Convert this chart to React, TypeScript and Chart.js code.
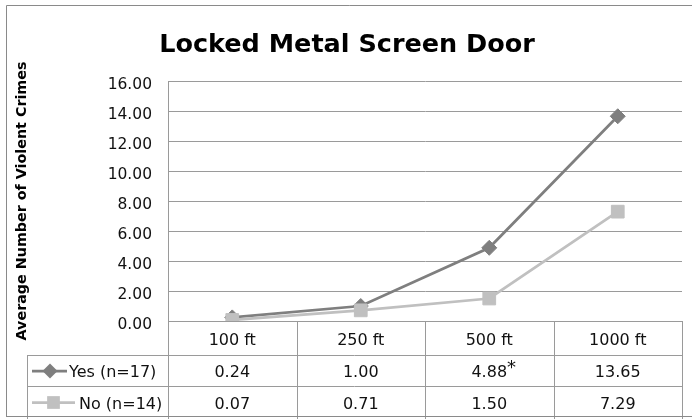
import React, { useEffect, useRef } from "react";
import { Chart, registerables } from "chart.js";

Chart.register(...registerables);

const chartTitle = "Locked Metal Screen Door";
const yAxisTitle = "Average Number of Violent Crimes";
const categories = ["100 ft", "250 ft", "500 ft", "1000 ft"];
const yesLabel = "Yes (n=17)";
const noLabel = "No (n=14)";
const yesValues = [0.24, 1.0, 4.88, 13.65];
const noValues = [0.07, 0.71, 1.5, 7.29];
const yesNotes = ["", "", "*", ""];
const noNotes = ["", "", "", ""];
const yMin = 0;
const yMax = 16;
const yStep = 2;

const FONT = "'DejaVu Sans', sans-serif";
const YES_COLOR = "#7f7f7f";
const NO_COLOR = "#c0c0c0";
const GRID = "#9a9a9a";

function drawMarker(ctx: CanvasRenderingContext2D, style: string, x: number, y: number, r: number, color: string) {
  ctx.save();
  ctx.fillStyle = color;
  ctx.beginPath();
  if (style === "rectRot") {
    ctx.moveTo(x - r, y);
    ctx.lineTo(x, y - r);
    ctx.lineTo(x + r, y);
    ctx.lineTo(x, y + r);
    ctx.closePath();
  } else {
    const s = r * Math.SQRT1_2;
    ctx.rect(x - s, y - s, 2 * s, 2 * s);
  }
  ctx.fill();
  ctx.restore();
}

const tablePlugin = {
  id: "dataTable",
  afterDraw(chart: any) {
    const { ctx, chartArea, scales, width, height } = chart;
    const xs = scales.x;
    const step = xs.getPixelForValue(1) - xs.getPixelForValue(0);
    const bounds = categories.map((_, i) => xs.getPixelForValue(i) - step / 2);
    bounds.push(xs.getPixelForValue(categories.length - 1) + step / 2);
    const right = chartArea.right;
    const top = chartArea.bottom;
    const headerH = 34;
    const rowH = 31;
    const legendLeft = 27;
    const r1 = top + headerH;
    const r2 = r1 + rowH;
    const r3 = r2 + rowH;

    ctx.save();
    ctx.strokeStyle = GRID;
    ctx.lineWidth = 1;
    ctx.beginPath();
    bounds.forEach((bx: number) => {
      const px = Math.round(bx) + 0.5;
      ctx.moveTo(px, top);
      ctx.lineTo(px, height);
    });
    ctx.moveTo(legendLeft + 0.5, r1);
    ctx.lineTo(legendLeft + 0.5, height);
    [r1, r2].forEach((ry) => {
      ctx.moveTo(legendLeft, Math.round(ry) + 0.5);
      ctx.lineTo(right, Math.round(ry) + 0.5);
    });
    ctx.stroke();

    // outer frame
    ctx.strokeStyle = "#8a8a8a";
    ctx.beginPath();
    ctx.moveTo(6.5, Math.round(r3) - 0.5);
    ctx.lineTo(6.5, 5.5);
    ctx.lineTo(width, 5.5);
    ctx.moveTo(6, Math.round(r3) - 0.5);
    ctx.lineTo(width, Math.round(r3) - 0.5);
    ctx.stroke();

    ctx.fillStyle = "#111";
    ctx.font = `16px ${FONT}`;
    ctx.textAlign = "center";
    ctx.textBaseline = "middle";
    categories.forEach((c, i) => {
      ctx.fillText(c, xs.getPixelForValue(i), top + headerH / 2 + 3);
    });
    const rows = [
      { label: yesLabel, values: yesValues, notes: yesNotes, y: r1 + rowH / 2 + 2.5, color: YES_COLOR, style: "rectRot", r: 7.5, l0: 32, l1: 67, mx: 50, tx: 69 },
      { label: noLabel, values: noValues, notes: noNotes, y: r2 + rowH / 2 + 3, color: NO_COLOR, style: "rect", r: 9, l0: 32, l1: 75, mx: 53.5, tx: 79 },
    ];
    rows.forEach((row) => {
      ctx.textAlign = "center";
      row.values.forEach((v, i) => {
        const cx = xs.getPixelForValue(i);
        const txt = v.toFixed(2);
        ctx.fillText(txt, cx, row.y);
        if (row.notes[i]) {
          const w = ctx.measureText(txt).width;
          ctx.save();
          ctx.textAlign = "left";
          ctx.font = `18px ${FONT}`;
          ctx.fillText(row.notes[i], cx + w / 2, row.y - 5);
          ctx.restore();
        }
      });
      ctx.save();
      ctx.strokeStyle = row.color;
      ctx.lineWidth = 2.75;
      ctx.beginPath();
      ctx.moveTo(row.l0, row.y - 2);
      ctx.lineTo(row.l1, row.y - 2);
      ctx.stroke();
      ctx.restore();
      drawMarker(ctx, row.style, row.mx, row.y - 2, row.r, row.color);
      ctx.textAlign = "left";
      ctx.fillText(row.label, row.tx, row.y);
    });
    ctx.restore();
  },
};

export default function App() {
  const ref = useRef<HTMLCanvasElement | null>(null);
  useEffect(() => {
    if (!ref.current) return;
    const chart = new Chart(ref.current, {
      type: "line",
      data: {
        labels: categories,
        datasets: [
          {
            label: yesLabel,
            data: yesValues,
            borderColor: YES_COLOR,
            backgroundColor: YES_COLOR,
            borderWidth: 2.75,
            pointStyle: "rectRot",
            pointRadius: 7.5,
            pointBorderWidth: 1,
            tension: 0,
            order: 2,
          },
          {
            label: noLabel,
            data: noValues,
            borderColor: NO_COLOR,
            backgroundColor: NO_COLOR,
            borderWidth: 2.75,
            pointStyle: "rect",
            pointRadius: 9,
            pointBorderWidth: 1,
            tension: 0,
            order: 1,
          },
        ],
      },
      options: {
        responsive: false,
        animation: false,
        layout: { padding: { left: 12, right: 10, top: 0, bottom: 98 } },
        plugins: {
          legend: { display: false },
          tooltip: { enabled: false },
          title: {
            display: true,
            text: chartTitle,
            color: "#000",
            font: { family: FONT, size: 25.5, weight: "bold" },
            padding: { top: 30, bottom: 20.4 },
          },
        },
        scales: {
          x: {
            type: "category",
            display: false,
            offset: true,
          },
          y: {
            min: yMin,
            max: yMax,
            afterFit: (s: any) => {
              s.width = 156;
            },
            ticks: {
              stepSize: yStep,
              padding: 16,
              labelOffset: 4,
              color: "#111",
              font: { family: FONT, size: 15.5 },
              callback: (v: any) => Number(v).toFixed(2),
            },
            grid: { color: GRID, drawTicks: false, lineWidth: 1 },
            border: { display: true, color: GRID },
            title: {
              display: true,
              text: yAxisTitle,
              color: "#000",
              font: { family: FONT, size: 14.3, weight: "bold" },
              padding: { top: 2, bottom: 0 },
            },
          },
        },
      },
      plugins: [tablePlugin],
    });
    return () => chart.destroy();
  }, []);
  return (
    <div style={{ position: "fixed", left: 0, top: 0, width: 692, height: 419, background: "#fff" }}>
      <canvas ref={ref} width={692} height={419} style={{ width: 692, height: 419, display: "block" }} />
    </div>
  );
}
